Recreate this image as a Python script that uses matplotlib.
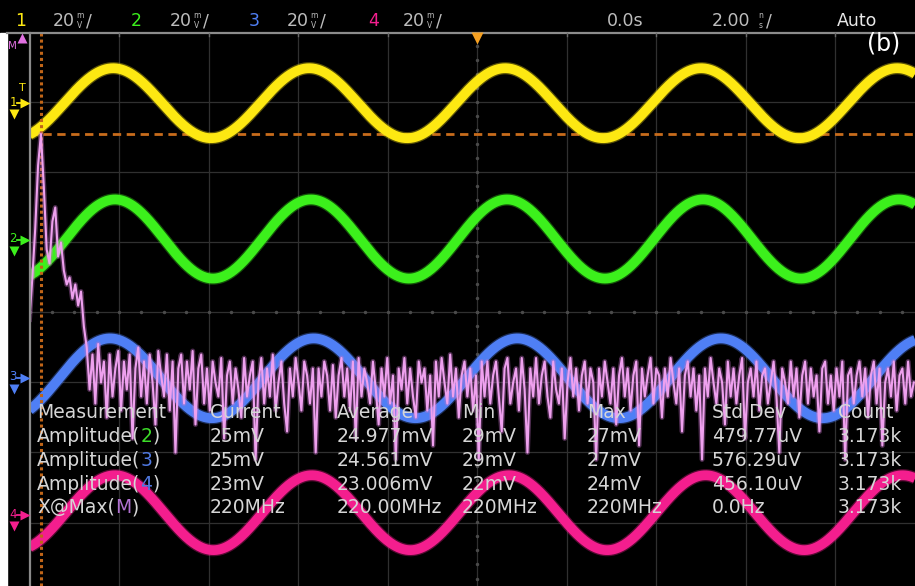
"""
Oscilloscope screen capture (b): four 220 MHz channels + FFT math trace
and the measurement table.
"""
import numpy as np
import matplotlib
matplotlib.use("Agg")
import matplotlib.pyplot as plt
from matplotlib.patches import Rectangle

W, H = 915, 586

# scope settings
TIME_DIV = 2.0        # ns / div
VOLT_DIV = 20.0       # mV / div, all channels
MATH_DB_DIV = 10.0    # dB / div of the FFT trace
MATH_REF = -60.0      # dBm on the centre graticule line
FFT_GHZ_DIV = 1.72    # GHz / div of the FFT trace
FFT_STEP = 0.22 / 4   # GHz between FFT bins
TRIG_LEVEL = 51.0     # mV on the channel-1 scale
XMAX_FREQ = 0.22      # GHz, X@Max(M)

# channel traces (mV offsets / amplitudes, ns period / first peak)
ch_labels = ["1", "2", "3", "4"]
ch_colors = ["#fde812", "#3cf01c", "#4f7ff5", "#f41e8e"]
ch_offset = [59.8, 21.0, -18.8, -57.2]
ch_amp = [10.0, 11.3, 11.4, 10.7]
ch_period = [4.38, 4.38, 4.55, 4.40]
ch_peak_t = [-8.13, -8.09, -8.20, -8.09]

# FFT magnitude of the math channel, dBm per bin
fft_dbm = [
    -61, -55, -48, -39, -34.5, -42, -51, -53, -47, -45,
    -52, -50, -54, -56, -55, -58, -56, -59, -57, -62,
    -65, -71, -66, -73, -64.5, -70, -67, -75, -66, -72,
    -68, -65.5, -74, -67, -71, -66, -78, -68, -65, -72,
    -67, -73, -66, -70, -76, -65.5, -69, -72, -66, -74,
    -67, -80, -68, -66, -73, -67, -71, -65.5, -76, -68,
    -66, -73, -68, -74, -67, -70, -72, -66.5, -78, -69,
    -67, -73, -68, -71, -75, -66.5, -72, -69, -67, -81,
    -70, -66.5, -73, -68, -72, -66, -74, -70, -67, -73,
    -77, -68, -72, -66.5, -70, -74, -67, -69, -73, -68,
    -80, -68, -72, -67, -69, -74, -67.5, -75, -69, -66.5,
    -72, -68, -74, -67, -78, -66.5, -72, -68, -70, -73,
    -67, -71, -76, -68, -72, -66.5, -73, -69, -81, -68,
    -71, -66.5, -73, -68, -72, -75, -67, -70, -68, -74,
    -69, -79, -67, -72, -66.5, -70, -73, -66, -72, -68,
    -75, -69, -67, -72, -68, -74, -69, -81, -67, -72,
    -67, -73, -69, -67, -72, -77, -68, -66.5, -73, -70,
    -68, -74, -66.5, -71, -80, -68, -72, -66.5, -73, -69,
    -67, -72, -75, -67, -71, -73, -68, -78, -70, -66.5,
    -72, -68, -74, -69, -67, -73, -68, -70, -81, -68,
    -72, -67, -70, -73, -68, -76, -69, -66.5, -72, -68,
    -74, -69, -67, -79, -68, -72, -69, -66.5, -73, -68,
    -69, -75, -68, -72, -66.5, -70, -73, -68, -77, -69,
    -67, -72, -68, -74, -69, -81, -68, -72, -66.5, -70,
    -73, -68, -70, -76, -67, -72, -68, -73, -69, -66.5,
    -78, -70, -68, -72, -67, -74, -69, -68, -73, -70,
    -67, -72, -80, -68, -70, -73, -67, -72, -68, -75,
    -69, -67, -73, -68, -72, -69, -77, -68, -67, -73,
    -69, -74, -68, -72, -67, -81, -69, -68, -73, -69,
    -67, -72, -68, -75, -69, -67, -73, -68, -79, -70,
    -68, -72, -67, -74, -69, -68, -73, -67, -72, -70,
]

# top status bar
bar_scales = ["20", "20", "20", "20"]
time_pos = "0.0s"
time_scale = "2.00"
trig_mode = "Auto"
panel_tag = "(b)"

# measurement table
meas_header = ["Measurement", "Current", "Average", "Min", "Max", "Std Dev", "Count"]
meas_source = [("Amplitude(", "2", ")"), ("Amplitude(", "3", ")"),
               ("Amplitude(", "4", ")"), ("X@Max(", "M", ")")]
meas_source_col = ["#3cdc28", "#4f78e0", "#4f78e0", "#b070d0"]
meas_values = [
    ["25mV", "24.977mV", "29mV", "27mV", "479.77uV", "3.173k"],
    ["25mV", "24.561mV", "29mV", "27mV", "576.29uV", "3.173k"],
    ["23mV", "23.006mV", "22mV", "24mV", "456.10uV", "3.173k"],
    ["220MHz", "220.00MHz", "220MHz", "220MHz", "0.0Hz", "3.173k"],
]

# screen geometry (pixels)
X0, DX = 29.5, 89.5     # left graticule edge, px per horizontal div
YC, DY = 312.5, 70.0    # centre line, px per vertical div
TOP = 32.5

plt.rcParams["font.family"] = ["DejaVu Sans"]
fig = plt.figure(figsize=(W / 100, H / 100), dpi=100, facecolor="black")

ax = fig.add_axes([X0 / W, 0, (W - X0) / W, (H - TOP) / H])
ax.set_facecolor("black")
ax.set_xlim(-5 * TIME_DIV, -5 * TIME_DIV + (W - X0) / DX * TIME_DIV)
ax.set_ylim(-(H - YC) / DY, (YC - TOP) / DY)
ax.axis("off")

# graticule
grid_c = "#303030"
for k in range(1, 10):
    ax.axvline(-5 * TIME_DIV + k * TIME_DIV, color=grid_c, lw=0.9, zorder=0)
for k in range(-3, 4):
    ax.axhline(k, color=grid_c, lw=0.9, zorder=0)
ax.plot(np.arange(-10, 10.01, TIME_DIV / 4), np.zeros(41), ls="none",
        marker="o", ms=1.5, color="#4a4a4a", zorder=0)
ax.plot(np.zeros(41), np.arange(-4, 4.01, 0.2), ls="none",
        marker="o", ms=1.5, color="#4a4a4a", zorder=0)

# trigger level
ax.axhline(TRIG_LEVEL / VOLT_DIV, color="#c86c1c", lw=2.0, ls=(0, (3, 2)), zorder=1)

# channel traces
t = np.linspace(-10, 10, 2000)
for off, amp, per, tpk, col in zip(ch_offset, ch_amp, ch_period, ch_peak_t, ch_colors):
    y = (off + amp * np.cos(2 * np.pi * (t - tpk) / per)) / VOLT_DIV
    ax.plot(t, y, color=col, lw=8.8, alpha=0.35, solid_capstyle="butt", zorder=2)
    ax.plot(t, y, color=col, lw=7.0, solid_capstyle="butt", zorder=3)

# FFT math trace on its own frequency axis
ax2 = ax.twiny()
ax2.set_xlim(0, (W - X0) / DX * FFT_GHZ_DIV)
ax2.set_ylim(ax.get_ylim())
ax2.axis("off")
freq = np.arange(len(fft_dbm)) * FFT_STEP
fft_div = (np.array(fft_dbm) - MATH_REF) / MATH_DB_DIV
ax2.axvline(XMAX_FREQ, color="#c06518", lw=2.2, ls=(0, (1, 1)), zorder=1)
ax2.plot(freq, fft_div, color="#c872cc", lw=3.6, alpha=0.38, zorder=4)
ax2.plot(freq, fft_div, color="#eea0ee", lw=1.5, zorder=5)

# overlay in pixel coordinates for screen furniture and text
ov = fig.add_axes([0, 0, 1, 1], zorder=5)
ov.set_xlim(0, W)
ov.set_ylim(H, 0)
ov.axis("off")
ov.patch.set_alpha(0)

ov.add_patch(Rectangle((0, TOP), 7, H - TOP, color="white", zorder=1))
ov.plot([7, W], [TOP, TOP], color="#8c8c8c", lw=1.6)
ov.plot([X0, X0], [TOP, H], color="#8a8a8a", lw=1.6)
for k in range(1, 10):
    ov.plot([X0 + k * DX] * 2, [TOP, TOP + 3], color="#6a6a6a", lw=1)
ov.plot(X0 + 5 * DX, TOP + 5, marker="v", ms=9, color="#f5a022", mec="none")

# channel reference markers on the left
ref_y = [103, 240, 378, 515]
for lab, col, yy in zip(ch_labels, ch_colors, ref_y):
    ov.text(13, yy - 1, lab, color=col, fontsize=8.5, ha="center", va="center")
    ov.plot(25, yy, marker=">", ms=6.5, color=col, mec="none")
    ov.plot([17, 23], [yy, yy], color=col, lw=1.3)
    ov.plot(14, yy + 11, marker="v", ms=6.5, color=col, mec="none")
ov.text(12, 46, "M", color="#e070e0", fontsize=7.5, ha="center", va="center")
ov.plot(22, 38, marker="^", ms=6.5, color="#e070e0", mec="none")
ov.text(22, 88, "T", color="#fde812", fontsize=8, ha="center", va="center")

# status bar
gray = "#bdbdbd"
num_x = [15, 131, 249, 368]
scale_x = [53, 170, 287, 403]
for lab, col, nx, sx, sc in zip(ch_labels, ch_colors, num_x, scale_x, bar_scales):
    ov.text(nx, 21, lab, color=col, fontsize=12.5, va="center")
    ov.text(sx, 21, sc, color=gray, fontsize=12.5, va="center")
    ov.text(sx + 27, 16, "m", color=gray, fontsize=5.5, ha="center", va="center")
    ov.text(sx + 27, 26, "V", color=gray, fontsize=5.5, ha="center", va="center")
    ov.text(sx + 33, 21, "/", color=gray, fontsize=12.5, va="center")
ov.text(607, 21, time_pos, color=gray, fontsize=12.5, va="center")
ov.text(712, 21, time_scale, color=gray, fontsize=12.5, va="center")
ov.text(761, 16, "n", color=gray, fontsize=5.5, ha="center", va="center")
ov.text(761, 26, "s", color=gray, fontsize=5.5, ha="center", va="center")
ov.text(766, 21, "/", color=gray, fontsize=12.5, va="center")
ov.text(837, 21, trig_mode, color="#e8e8e8", fontsize=12.5, va="center")
ov.text(867, 44, panel_tag, color="white", fontsize=17, va="center")

# measurement table
txt_c = "#d6d6d6"
fs = 13.5
col_x = [37, 210, 337, 462, 587, 712, 838]
row_base = [418, 442, 466, 490, 513]
for cx, h in zip(col_x, meas_header):
    ov.text(cx, row_base[0], h, color=txt_c, fontsize=fs, va="baseline")
for r, (src, scol, vals) in enumerate(zip(meas_source, meas_source_col, meas_values)):
    yb = row_base[r + 1]
    t1 = ov.text(col_x[0], yb, src[0], color=txt_c, fontsize=fs, va="baseline")
    t2 = ov.annotate(src[1], xy=(1, 0), xycoords=t1, color=scol, fontsize=fs,
                     va="bottom")
    ov.annotate(src[2], xy=(1, 0), xycoords=t2, color=txt_c, fontsize=fs,
                va="bottom")
    for cx, v in zip(col_x[1:], vals):
        ov.text(cx, yb, v, color=txt_c, fontsize=fs, va="baseline")

fig.savefig("out.png", dpi=100, facecolor="black")
